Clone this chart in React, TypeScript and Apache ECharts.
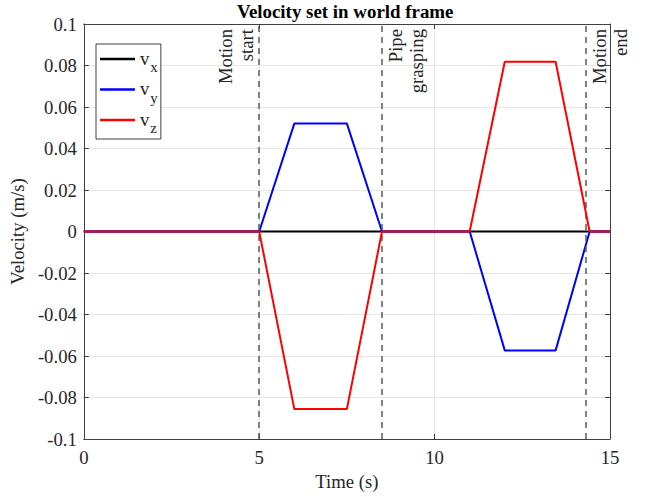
import React, { useEffect, useRef } from "react";
import * as echarts from "echarts";

const FONT = "Liberation Serif";
const FS = 18.7;
const TXT = "#262626";

const time = [0, 5, 6, 7.5, 8.5, 11, 12, 13.45, 14.42, 15];
const vx = [0, 0, 0, 0, 0, 0, 0, 0, 0, 0];
const vy = [0, 0, 0.052, 0.052, 0, 0, -0.0573, -0.0573, 0, 0];
const vz = [0, 0, -0.0855, -0.0855, 0, 0, 0.0818, 0.0818, 0, 0];

const seriesNames = ["vx", "vy", "vz"];
const seriesColors = ["#000000", "#0000ff", "#ff0000"];

const eventTimes = [5, 8.5, 14.32];
const eventLabels = ["Motion\nstart", "Pipe\ngrasping", "Motion\nend"];
const eventSides = ["insideEndTop", "insideEndBottom", "insideEndBottom"];
const eventDist = [[5, 2], [5, 3], [5, 3]];

const xMin = 0, xMax = 15, xStep = 5;
const yMin = -0.1, yMax = 0.1, yStep = 0.02;

export default function App() {
  const ref = useRef<HTMLDivElement>(null);
  useEffect(() => {
    document.body.style.margin = "0";
    const chart = echarts.init(ref.current!, null, { renderer: "svg" });
    const values = [vx, vy, vz];
    const series: any[] = values.map((vals, k) => ({
      name: seriesNames[k],
      type: "line",
      data: time.map((t, i) => [t, vals[i]]),
      symbol: "none",
      showSymbol: false,
      lineStyle: { width: 2, color: seriesColors[k] },
      itemStyle: { color: seriesColors[k] },
      z: 3 + k,
    }));
    series[0].markLine = {
      silent: true,
      symbol: ["none", "none"],
      animation: false,
      lineStyle: { type: [6, 5], color: "#595959", width: 1.5 },
      data: eventTimes.map((t, i) => [
        {
          coord: [t, yMin],
          label: {
            show: true,
            formatter: eventLabels[i],
            position: eventSides[i],
            distance: eventDist[i],
            fontFamily: FONT,
            fontSize: FS,
            lineHeight: 21,
            color: TXT,
          },
        },
        { coord: [t, yMax] },
      ]),
    };

    const axisLine = { show: true, onZero: false, lineStyle: { color: "#404040", width: 1 } };
    const axisTick = { show: true, inside: true, length: 5, lineStyle: { color: "#404040", width: 1 } };
    const labelStyle = { fontFamily: FONT, fontSize: FS, color: TXT };

    const option: any = {
      animation: false,
      title: {
        text: "Velocity set in world frame",
        left: 237,
        top: 2,
        padding: 0,
        textStyle: { fontFamily: FONT, fontSize: 18.9, fontWeight: "bold", color: "#000" },
      },
      grid: { left: 83, right: 38, top: 24, bottom: 58, containLabel: false },
      legend: {
        orient: "vertical",
        left: 96,
        top: 44,
        padding: [4.5, 3, 3.5, 4],
        itemGap: 4.5,
        itemWidth: 35,
        itemHeight: 2.5,
        icon: "rect",
        borderColor: "#404040",
        borderWidth: 1,
        backgroundColor: "#fff",
        data: seriesNames,
        formatter: (name: string) => `{v|v}{s|${name.slice(1)}}`,
        textStyle: {
          fontFamily: FONT,
          color: TXT,
          rich: {
            v: { fontFamily: FONT, fontSize: FS, color: TXT, padding: [0, 0, 2, 0] },
            s: { fontFamily: FONT, fontSize: 15, color: TXT, padding: [16, 0, 0, 1] },
          },
        },
      },
      xAxis: [
        {
          type: "value",
          min: xMin,
          max: xMax,
          interval: xStep,
          position: "bottom",
          name: "Time (s)",
          nameLocation: "middle",
          nameGap: 32,
          nameTextStyle: labelStyle,
          axisLine,
          axisTick,
          axisLabel: { ...labelStyle, margin: 9 },
          splitLine: { show: true, lineStyle: { color: "#e6e6e6", width: 1 } },
        },
        {
          type: "value",
          min: xMin,
          max: xMax,
          interval: xStep,
          position: "top",
          axisLine,
          axisTick,
          axisLabel: { show: false },
          splitLine: { show: false },
        },
      ],
      yAxis: [
        {
          type: "value",
          min: yMin,
          max: yMax,
          interval: yStep,
          position: "left",
          name: "Velocity (m/s)",
          nameLocation: "middle",
          nameGap: 48,
          nameTextStyle: labelStyle,
          axisLine,
          axisTick,
          axisLabel: {
            ...labelStyle,
            margin: 7,
            formatter: (v: number) => String(+v.toFixed(2)),
          },
          splitLine: { show: true, lineStyle: { color: "#e6e6e6", width: 1 } },
        },
        {
          type: "value",
          min: yMin,
          max: yMax,
          interval: yStep,
          position: "right",
          axisLine,
          axisTick,
          axisLabel: { show: false },
          splitLine: { show: false },
        },
      ],
      series,
    };
    chart.setOption(option);
    return () => chart.dispose();
  }, []);
  return (
    <div
      ref={ref}
      style={{ position: "absolute", left: 0, top: 0, width: 648, height: 497, background: "#fff" }}
    />
  );
}
